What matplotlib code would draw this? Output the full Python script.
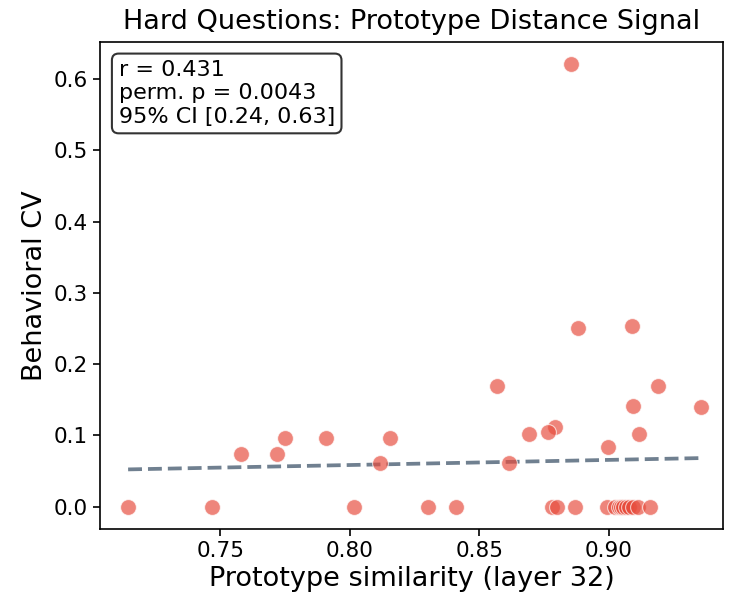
"""
Hard questions: prototype similarity vs behavioral CV scatter
"""

import matplotlib.pyplot as plt
import numpy as np

# prototype similarity (layer 32) per hard question
similarity = [
    0.7144, 0.7467, 0.7579, 0.7718, 0.7749, 0.7907, 0.8016, 0.8118,
    0.8153, 0.8302, 0.8411, 0.8568, 0.8880, 0.9091, 0.9190, 0.9092,
    0.9357, 0.8790, 0.8766, 0.8693, 0.9118, 0.8996, 0.8615, 0.8854,
    0.8780, 0.8799, 0.8869, 0.8992, 0.9023, 0.9038, 0.9046, 0.9054,
    0.9065, 0.9077, 0.9092, 0.9111, 0.9157,
]
# behavioral coefficient of variation
behavioral_cv = [
    0.0, 0.0, 0.0738, 0.0738, 0.0958, 0.0958, 0.0, 0.0617,
    0.0958, 0.0, 0.0, 0.1692, 0.2512, 0.2534, 0.1688, 0.1407,
    0.1403, 0.1122, 0.1043, 0.1019, 0.1019, 0.0842, 0.0617, 0.6216,
    0.0, 0.0, 0.0, 0.0, 0.0, 0.0, 0.0, 0.0,
    0.0, 0.0, 0.0, 0.0, 0.0,
]

# fitted trend line
trend_slope = 0.0719
trend_intercept = 0.0009

stats_lines = ["r = 0.431", "perm. p = 0.0043", "95% CI [0.24, 0.63]"]


def main():
    x = np.array(similarity)
    y = np.array(behavioral_cv)

    fig, ax = plt.subplots(figsize=(7.29, 6.05), dpi=100)
    fig.subplots_adjust(left=0.137, right=0.992, bottom=0.126, top=0.931)

    ax.scatter(x, y, s=130, color='#e74c3c', alpha=0.68,
               edgecolors='white', linewidth=0.8, zorder=3)

    x_line = np.linspace(x.min(), x.max(), 100)
    ax.plot(x_line, trend_intercept + trend_slope * x_line, '--',
            color='slategray', linewidth=2.7, zorder=2)

    ax.set_xlim(0.7035, 0.9441)
    ax.set_xlabel('Prototype similarity (layer 32)', fontsize=19.5)
    ax.set_ylabel('Behavioral CV', fontsize=19.5)
    ax.set_title('Hard Questions: Prototype Distance Signal', fontsize=19.5, pad=9)
    ax.tick_params(labelsize=15.5, length=5, width=1.2)
    for spine in ax.spines.values():
        spine.set_linewidth(1.2)
    ax.set_xticks([0.75, 0.80, 0.85, 0.90])

    ax.text(0.03, 0.962, "\n".join(stats_lines), transform=ax.transAxes,
            fontsize=16, va='top', ha='left', linespacing=1.2,
            bbox=dict(boxstyle='round,pad=0.3', facecolor='white',
                      edgecolor='#333333', linewidth=1.5))

    plt.savefig('out.png', dpi=100)


if __name__ == "__main__":
    main()
